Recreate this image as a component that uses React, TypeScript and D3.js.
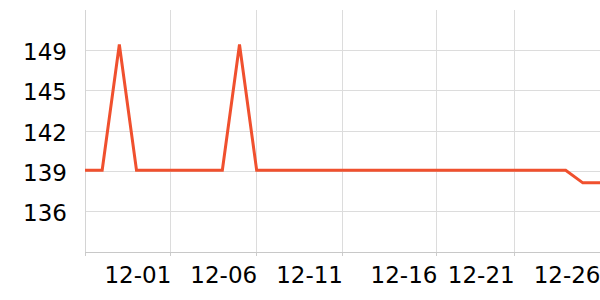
import React from "react";
import * as d3 from "d3";

const dates: string[] = [
  "2023-11-26","2023-11-27","2023-11-28","2023-11-29","2023-11-30",
  "2023-12-01","2023-12-02","2023-12-03","2023-12-04","2023-12-05",
  "2023-12-06","2023-12-07","2023-12-08","2023-12-09","2023-12-10",
  "2023-12-11","2023-12-12","2023-12-13","2023-12-14","2023-12-15",
  "2023-12-16","2023-12-17","2023-12-18","2023-12-19","2023-12-20",
  "2023-12-21","2023-12-22","2023-12-23","2023-12-24","2023-12-25",
  "2023-12-26",
];
const values: number[] = [
  139,139,149,139,139,
  139,139,139,139,149,
  139,139,139,139,139,
  139,139,139,139,139,
  139,139,139,139,139,
  139,139,139,139,138,
  138,
];
const xTickDates: string[] = [
  "2023-11-26T00:00","2023-12-01T00:00","2023-12-06T00:00","2023-12-11T00:00",
  "2023-12-16T12:00","2023-12-21T00:00","2023-12-26T00:00",
];
const xTickLabels: string[] = ["", "12-01", "12-06", "12-11", "12-16", "12-21", "12-26"];
const yDomain: number[] = [132.5, 151.75];
const yTickCount = 6;

const W = 600, H = 300;
const M = { left: 85, right: 0, top: 10, bottom: 48 };

export default function App() {
  const parse = (s: string) => new Date(s.length <= 10 ? s + "T00:00" : s);
  const x = d3.scaleTime()
    .domain([parse(dates[0]), parse(dates[dates.length - 1])])
    .range([M.left, W - M.right]);
  const y = d3.scaleLinear().domain(yDomain).range([H - M.bottom, M.top]);
  const step = (yDomain[1] - yDomain[0]) / yTickCount;
  const yTicks = d3.range(yTickCount + 1).map((i) => yDomain[0] + i * step);
  const line = d3.line<number>()
    .x((_, i) => x(parse(dates[i])))
    .y((d) => y(d));
  const font = "DejaVu Sans, sans-serif";
  const y0 = H - M.bottom;
  return (
    <svg width={W} height={H} style={{ position: "absolute", left: 0, top: 0, background: "#fff" }}>
      {yTicks.map((t, i) =>
        i > 0 && i < yTicks.length - 1 ? (
          <g key={"y" + i}>
            <line x1={M.left} x2={W - M.right} y1={y(t)} y2={y(t)} stroke="#dcdcdc" strokeWidth={1} shapeRendering="crispEdges" />
            <text x={M.left - 18} y={y(t)} dy="0.42em" textAnchor="end" fontFamily={font} fontSize={23} fill="#000">
              {Math.round(t)}
            </text>
          </g>
        ) : null
      )}
      {xTickDates.map((d, i) => {
        const xx = x(parse(d));
        return (
          <g key={"x" + i}>
            {i > 0 && <line x1={xx} x2={xx} y1={M.top} y2={y0} stroke="#dcdcdc" strokeWidth={1} shapeRendering="crispEdges" />}
            <line x1={xx} x2={xx} y1={y0} y2={y0 + 4} stroke="#cccccc" strokeWidth={1} shapeRendering="crispEdges" />
            {xTickLabels[i] && (
              <text x={xx + 0.5} y={282.5} textAnchor="end" fontFamily={font} fontSize={23} fill="#000">
                {xTickLabels[i]}
              </text>
            )}
          </g>
        );
      })}
      <line x1={M.left} x2={M.left} y1={M.top} y2={y0} stroke="#d4d4d4" strokeWidth={1} shapeRendering="crispEdges" />
      <line x1={M.left} x2={W - M.right} y1={y0} y2={y0} stroke="#c8c8c8" strokeWidth={1} shapeRendering="crispEdges" />
      <path d={line(values) || ""} fill="none" stroke="#f0502e" strokeWidth={3} strokeLinejoin="miter" />
    </svg>
  );
}
